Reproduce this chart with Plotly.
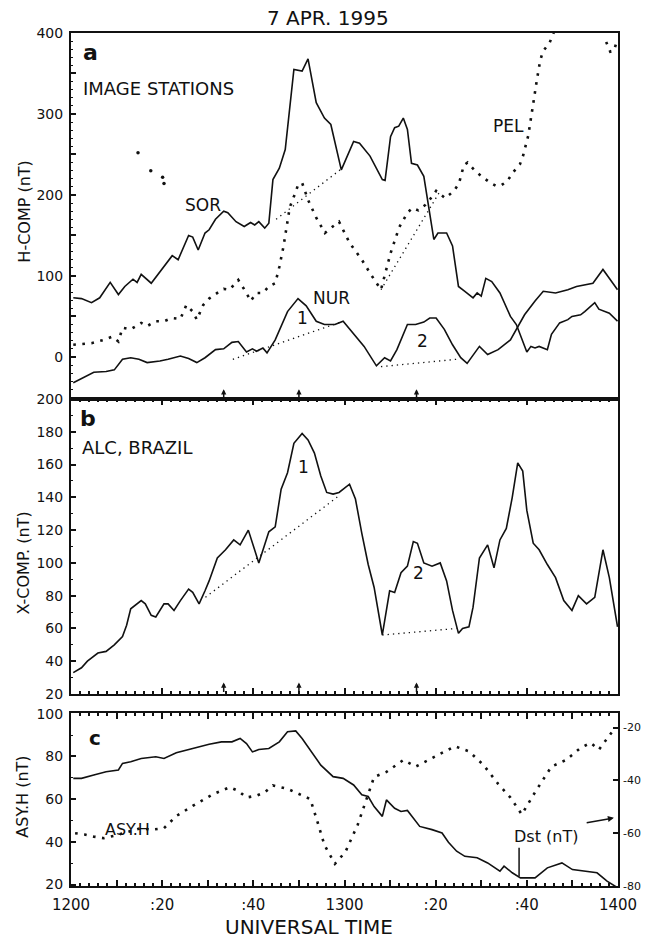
import plotly.graph_objects as go

# ---------------- data (minutes after 1200 UT) ----------------
t_sor = [0.5, 2.3, 4.5, 6.3, 8.6, 10.4, 11.8, 13.6, 14.5, 15.4, 17.6, 19.9, 22.2, 23.5, 25.8, 26.7, 27.9, 29.4, 30.3, 31.7,
         33.5, 34.4, 36.2, 38.0, 39.4, 40.3, 41.2, 42.5, 43.4, 44.3, 45.7, 47.0, 47.9, 48.9, 50.7, 52.0, 53.8, 55.6, 57.0, 59.3,
         62.0, 63.3, 65.6, 68.3, 68.9, 70.1, 71.0, 71.9, 72.9, 73.8, 74.7, 76.0, 77.4, 79.6, 80.5, 82.4, 83.7, 85.0, 86.4, 88.2,
         89.1, 90.0, 91.0, 92.3, 94.1, 96.4, 97.7, 99.1, 100.0, 100.9, 101.8, 102.7, 104.5, 105.4, 107.2, 109.0, 109.9, 111.8,
         112.7, 114.9, 115.8, 118.1, 119.9]
v_sor = [73, 72, 67, 73, 92, 77, 87, 96, 92, 102, 91, 108, 125, 120, 150, 148, 132, 153, 157, 170,
         180, 178, 167, 161, 166, 163, 167, 159, 165, 219, 233, 256, 305, 355, 353, 368, 314, 295, 287, 231,
         266, 264, 248, 219, 218, 272, 283, 285, 295, 281, 239, 237, 223, 145, 153, 153, 137, 87, 81, 73,
         79, 75, 97, 93, 79, 50, 40, 19, 6, 13, 11, 13, 9, 28, 42, 46, 50, 52,
         56, 67, 59, 54, 44]

t_nur = [0.5, 2.7, 5.0, 7.7, 9.5, 11.3, 13.1, 14.9, 16.7, 19.5, 21.3, 24.0, 25.8, 27.6, 29.4, 31.7, 33.5, 35.3, 36.7, 38.5,
         39.8, 40.7, 42.1, 43.0, 44.8, 47.5, 49.8, 51.6, 53.8, 55.6, 57.9, 59.7, 62.0, 64.3, 67.0, 68.8, 70.1, 71.5, 73.8, 75.6,
         77.4, 78.7, 80.1, 81.9, 83.7, 85.5, 86.9, 89.6, 91.4, 93.7, 96.4, 99.5, 101.8, 103.6, 106.3, 109.0, 110.9, 114.5, 116.7, 119.9]
v_nur = [-32, -26, -19, -18, -16, -3, -1, -3, -7, -5, -3, 1, -2, -7, -1, 9, 10, 18, 19, 6,
         10, 7, 11, 5, 21, 56, 72, 63, 44, 40, 40, 44, 28, 13, -11, -1, -5, 9, 40, 40,
         43, 48, 48, 34, 15, -1, -8, 13, 3, 9, 21, 52, 69, 81, 79, 83, 87, 91, 108, 83]

t_pel = [0.5, 2.3, 4.5, 7.2, 9.0, 10.4, 11.3, 13.1, 15.4, 16.7, 18.6, 20.4, 22.2, 24.0, 25.3, 26.7, 27.6, 29.0, 30.3, 32.1,
         33.5, 34.8, 36.7, 37.6, 38.5, 39.4, 40.7, 42.1, 43.4, 44.8, 45.7, 46.6, 47.5, 48.0, 48.9, 49.8, 50.7, 52.0, 53.8, 55.7,
         57.2, 58.8, 61.1, 63.8, 66.0, 68.0, 70.1, 72.0, 73.8, 74.9, 76.2, 77.8, 78.8, 80.1, 82.1, 84.0, 85.1, 86.2, 87.0, 88.6,
         90.3, 92.0, 93.3, 94.4, 95.7, 97.0, 98.5, 99.2, 100.3, 101.0, 101.6, 102.2, 102.9, 103.5, 105.0, 106.0, 110.0, 117.4,
         118.3, 119.1, 119.8]
v_pel = [15, 16, 17, 21, 25, 19, 36, 34, 42, 38, 44, 44, 48, 47, 64, 56, 46, 64, 72, 79,
         84, 83, 95, 87, 79, 69, 79, 79, 87, 91, 111, 136, 169, 185, 198, 212, 215, 194, 172, 153,
         160, 167, 141, 120, 100, 83, 128, 160, 178, 184, 181, 188, 195, 205, 196, 205, 214, 237, 240, 230,
         222, 215, 211, 212, 217, 228, 238, 249, 273, 296, 320, 342, 365, 377, 388, 402, None, 389,
         377, 378, 391]

t_dots = [14.7, 17.5, 20.1, 20.4]
v_dots = [252, 230, 222, 214]

base_sor_t, base_sor_v = [45.0, 59.5], [170, 233]
base_pel_t, base_pel_v = [68.0, 81.0], [83, 205]
base_nur1_t, base_nur1_v = [35.5, 59.7], [-3, 44]
base_nur2_t, base_nur2_v = [68.0, 84.5], [-12, -3]

t_alc = [0.5, 2.3, 3.6, 5.9, 7.7, 9.5, 11.3, 12.2, 13.1, 14.0, 15.4, 16.3, 17.6, 18.6, 20.4, 21.3, 22.6, 24.0, 25.8, 26.7,
         28.1, 29.4, 30.3, 32.1, 33.9, 35.7, 37.1, 38.9, 41.2, 43.4, 44.8, 46.1, 47.5, 48.9, 50.7, 52.0, 53.4, 54.8, 56.1, 57.5,
         58.8, 61.1, 62.4, 63.8, 65.2, 66.5, 68.3, 69.9, 71.0, 72.4, 73.8, 75.1, 76.0, 77.4, 79.2, 81.0, 82.4, 83.7, 85.0, 85.9,
         87.3, 88.2, 89.6, 91.4, 92.8, 94.1, 95.5, 96.8, 98.0, 99.1, 100.0, 101.4, 102.7, 104.5, 106.3, 108.1, 109.9, 111.3,
         113.1, 114.9, 116.7, 118.1, 119.9]
v_alc = [33, 36, 40, 45, 46, 50, 55, 62, 72, 74, 77, 75, 68, 67, 75, 75, 71, 77, 84, 82,
         75, 83, 89, 103, 108, 114, 111, 120, 100, 119, 122, 145, 155, 173, 179, 175, 167, 153, 143, 142,
         143, 148, 139, 118, 99, 85, 56, 83, 82, 94, 98, 113, 112, 100, 98, 100, 89, 71, 57, 60,
         61, 73, 103, 111, 97, 114, 121, 140, 161, 156, 132, 112, 108, 99, 91, 77, 71, 80,
         75, 79, 108, 91, 61]

base_alc1_t, base_alc1_v = [29.5, 58.8], [79, 141]
base_alc2_t, base_alc2_v = [68.3, 84.6], [56, 60]

t_asy = [0.5, 2.3, 5.0, 7.7, 10.4, 11.3, 13.1, 15.4, 18.6, 20.4, 23.1, 26.7, 30.3, 33.0, 35.3, 37.1, 38.5, 39.8, 41.2, 43.4,
         45.7, 47.5, 49.3, 50.7, 52.9, 54.8, 57.5, 59.7, 62.0, 63.8, 65.2, 66.5, 68.3, 69.2, 71.0, 72.4, 73.8, 76.5, 79.2, 81.4,
         82.8, 84.6, 86.4, 89.1, 91.4, 94.1, 95.0, 96.8, 98.6, 101.8, 104.5, 107.7, 110.0, 113.6, 115.4, 117.6, 119.9]
v_asy = [69.7, 69.7, 71.3, 72.8, 73.6, 76.7, 77.5, 79.0, 79.8, 79.0, 81.7, 83.7, 85.7, 86.8, 86.8, 88.4, 86.0, 82.1, 83.2, 83.7,
         86.8, 91.5, 91.9, 88.4, 81.4, 75.9, 70.5, 69.7, 66.6, 62.0, 61.2, 56.5, 51.9, 59.6, 55.7, 54.2, 54.7, 47.2, 45.7, 44.1,
         39.8, 35.6, 33.2, 32.5, 30.1, 26.2, 28.6, 25.5, 23.1, 23.1, 27.8, 30.1, 27.0, 25.9, 25.5, 21.6, 18.5]

t_dst = [0.9, 3.0, 5.0, 7.2, 9.5, 11.3, 13.6, 15.4, 17.6, 20.4, 23.1, 26.7, 29.4, 31.2, 34.8, 36.7, 38.5, 40.7, 42.5, 44.3,
         47.5, 50.2, 52.5, 53.8, 55.6, 57.9, 60.2, 62.9, 65.2, 66.5, 69.2, 72.9, 75.6, 78.3, 81.9, 84.2, 87.3, 90.5, 93.7, 96.4,
         98.9, 101.8, 105.4, 108.6, 111.8, 114.0, 115.8, 117.6, 119.4]
v_dst = [-60.0, -60.5, -61.3, -61.9, -61.0, -60.0, -59.0, -58.1, -58.7, -58.1, -53.5, -49.7, -47.0, -45.2, -42.6, -44.0, -46.5,
         -45.8, -44.5, -41.9, -43.2, -45.2, -47.1, -54.2, -64.5, -71.6, -67.1, -56.8, -45.2, -38.7, -36.8, -32.3, -34.8, -32.3,
         -29.0, -27.1, -29.0, -34.2, -41.3, -46.5, -52.9, -44.5, -34.8, -32.3, -27.7, -25.8, -28.4, -24.0, -20.0]

arrow_t = [33.5, 50.0, 75.8]

x_tickvals = [0, 10, 20, 30, 40, 50, 60, 70, 80, 90, 100, 110, 120]
x_ticktext = ['1200', '', ':20', '', ':40', '', '1300', '', ':20', '', ':40', '', '1400']

# ---------------- figure ----------------
FONT = 'DejaVu Sans'
BLK = '#111111'
fig = go.Figure()

def solid(x, y, xa, ya):
    fig.add_trace(go.Scatter(x=x, y=y, xaxis=xa, yaxis=ya, mode='lines',
                             line=dict(color=BLK, width=1.6), showlegend=False, hoverinfo='skip'))

def heavy_dot(x, y, xa, ya):
    fig.add_trace(go.Scatter(x=x, y=y, xaxis=xa, yaxis=ya, mode='lines',
                             line=dict(color=BLK, width=2.6, dash='2.6px,6.5px'),
                             showlegend=False, hoverinfo='skip', connectgaps=False))

def thin_dot(x, y, xa, ya):
    fig.add_trace(go.Scatter(x=x, y=y, xaxis=xa, yaxis=ya, mode='lines',
                             line=dict(color=BLK, width=1.3, dash='1.3px,4px'),
                             showlegend=False, hoverinfo='skip'))

# panel a
solid(t_sor, v_sor, 'x', 'y')
solid(t_nur, v_nur, 'x', 'y')
heavy_dot(t_pel, v_pel, 'x', 'y')
fig.add_trace(go.Scatter(x=t_dots, y=v_dots, xaxis='x', yaxis='y', mode='markers',
                         marker=dict(color=BLK, size=3.5), showlegend=False, hoverinfo='skip'))
thin_dot(base_sor_t, base_sor_v, 'x', 'y')
thin_dot(base_pel_t, base_pel_v, 'x', 'y')
thin_dot(base_nur1_t, base_nur1_v, 'x', 'y')
thin_dot(base_nur2_t, base_nur2_v, 'x', 'y')

# panel b
solid(t_alc, v_alc, 'x2', 'y2')
thin_dot(base_alc1_t, base_alc1_v, 'x2', 'y2')
thin_dot(base_alc2_t, base_alc2_v, 'x2', 'y2')

# panel c
solid(t_asy, v_asy, 'x3', 'y3')
heavy_dot(t_dst, v_dst, 'x3', 'y4')

tickfont = dict(family=FONT, size=14, color=BLK)
common_x = dict(range=[0, 120], showgrid=False, zeroline=False, showline=True, linewidth=2,
                linecolor=BLK, tickvals=x_tickvals, ticktext=x_ticktext, tickfont=dict(family=FONT, size=15, color=BLK))

def yax(domain, rng, tv, tt, minor_dt):
    return dict(domain=domain, range=rng, showgrid=False, zeroline=False, showline=True, linewidth=2,
                linecolor=BLK, mirror=True, tickvals=tv, ticktext=tt, ticks='inside', ticklen=5,
                tickwidth=1.5, tickcolor=BLK, tickfont=tickfont, ticklabelstandoff=3,
                minor=dict(tickmode='linear', tick0=0, dtick=minor_dt, ticks='inside', ticklen=2,
                           tickcolor=BLK, tickwidth=1))

dom_a = [0.5709, 1.0]
dom_b = [0.2251, 0.5709]
dom_c = [0.0, 0.2028]

fig.update_layout(
    width=653, height=941, plot_bgcolor='white', paper_bgcolor='white',
    margin=dict(l=71, r=28, t=33, b=55),
    font=dict(family=FONT, color=BLK),
    xaxis=dict(common_x, domain=[0, 1], anchor='y', matches='x3', showticklabels=False, ticks='', mirror=True),
    xaxis2=dict(common_x, domain=[0, 1], anchor='y2', matches='x3', showticklabels=False, ticks='inside',
                ticklen=6, tickwidth=1.5, tickcolor=BLK, mirror='ticks',
                minor=dict(tickmode='linear', tick0=0, dtick=2, ticks='inside', ticklen=3, tickcolor=BLK)),
    xaxis3=dict(common_x, domain=[0, 1], anchor='y3', showticklabels=True, ticks='inside',
                ticklen=6, tickwidth=1.5, tickcolor=BLK, mirror='ticks', ticklabelstandoff=4,
                minor=dict(tickmode='linear', tick0=0, dtick=2, ticks='inside', ticklen=3, tickcolor=BLK)),
    yaxis=yax(dom_a, [-52, 400], [0, 50, 100, 150, 200, 250, 300, 350, 400],
              ['0', '', '100', '', '200', '', '300', '', '400'], 10),
    yaxis2=yax(dom_b, [20, 200], [20, 40, 60, 80, 100, 120, 140, 160, 180, 200],
               ['20', '40', '60', '80', '100', '120', '140', '160', '180', '200'], 10),
    yaxis3=yax(dom_c, [19.3, 100.3], [20, 40, 60, 80, 100], ['20', '40', '60', '80', '100'], 10),
    yaxis4=dict(overlaying='y3', side='right', anchor='x3', range=[-80, -14.5], showgrid=False, zeroline=False,
                showline=False, tickvals=[-80, -60, -40, -20], ticktext=['-80', '-60', '-40', '-20'],
                ticks='inside', ticklen=5, tickwidth=1.5, tickcolor=BLK,
                tickfont=dict(family=FONT, size=11, color=BLK), ticklabelstandoff=4),
)

ann = []
def txt(x, y, s, xref, yref, size=17, xanchor='center', yanchor='middle', angle=0, bold=False):
    ann.append(dict(x=x, y=y, xref=xref, yref=yref, text=('<b>%s</b>' % s) if bold else s, showarrow=False,
                    xanchor=xanchor, yanchor=yanchor, textangle=angle,
                    font=dict(family=FONT, size=size, color=BLK)))

# titles
txt(0.469, 1.017, '7 APR. 1995', 'paper', 'paper', size=20)
txt(0.435, -0.0475, 'UNIVERSAL TIME', 'paper', 'paper', size=20)
txt(-0.0866, 0.7913, 'H-COMP (nT)', 'paper', 'paper', size=16, angle=-90)
txt(-0.0866, 0.3787, 'X-COMP. (nT)', 'paper', 'paper', size=16, angle=-90)
txt(-0.0903, 0.1043, 'ASY.H (nT)', 'paper', 'paper', size=16, angle=-90)

# panel a labels
txt(4.2, 376, 'a', 'x', 'y', size=22, bold=True)
txt(2.3, 332, 'IMAGE STATIONS', 'x', 'y', size=18, xanchor='left')
txt(29, 188, 'SOR', 'x', 'y')
txt(96, 285, 'PEL', 'x', 'y')
txt(57.2, 73, 'NUR', 'x', 'y')
txt(50.7, 48, '1', 'x', 'y')
txt(77.1, 20, '2', 'x', 'y')

# panel b labels
txt(3.7, 188.4, 'b', 'x2', 'y2', size=22, bold=True)
txt(2.0, 170.7, 'ALC, BRAZIL', 'x2', 'y2', size=18, xanchor='left')
txt(51, 158.5, '1', 'x2', 'y2')
txt(76.3, 93.8, '2', 'x2', 'y2')

# panel c labels
txt(5.3, 88.8, 'c', 'x3', 'y3', size=20, bold=True)
txt(12.4, 45.6, 'ASY.H', 'x3', 'y3', size=16)
txt(104.2, 42.3, 'Dst (nT)', 'x3', 'y3', size=16)

# pointer arrow to right axis
ann.append(dict(x=119.1, y=51.2, xref='x3', yref='y3', ax=112.8, ay=48.8, axref='x3', ayref='y3',
                showarrow=True, arrowhead=2, arrowsize=0.8, arrowwidth=1.5, arrowcolor=BLK, text=''))

# event arrows on bottom axes of panels a and b
for t in arrow_t:
    ann.append(dict(x=t, y=-40, xref='x', yref='y', ax=0, ay=10, showarrow=True, arrowhead=2,
                    arrowsize=0.7, arrowwidth=1.5, arrowcolor=BLK, text=''))
    ann.append(dict(x=t, y=27, xref='x2', yref='y2', ax=0, ay=11, showarrow=True, arrowhead=2,
                    arrowsize=0.7, arrowwidth=1.5, arrowcolor=BLK, text=''))

fig.update_layout(annotations=ann)

# vertical marker under Dst label
fig.add_shape(type='line', x0=98.3, x1=98.3, y0=37.2, y1=23.7, xref='x3', yref='y3',
              line=dict(color=BLK, width=1.5))

fig.write_html('out.html', config={'displayModeBar': False},
               post_script="document.body.style.margin='0';document.body.style.padding='0';")
